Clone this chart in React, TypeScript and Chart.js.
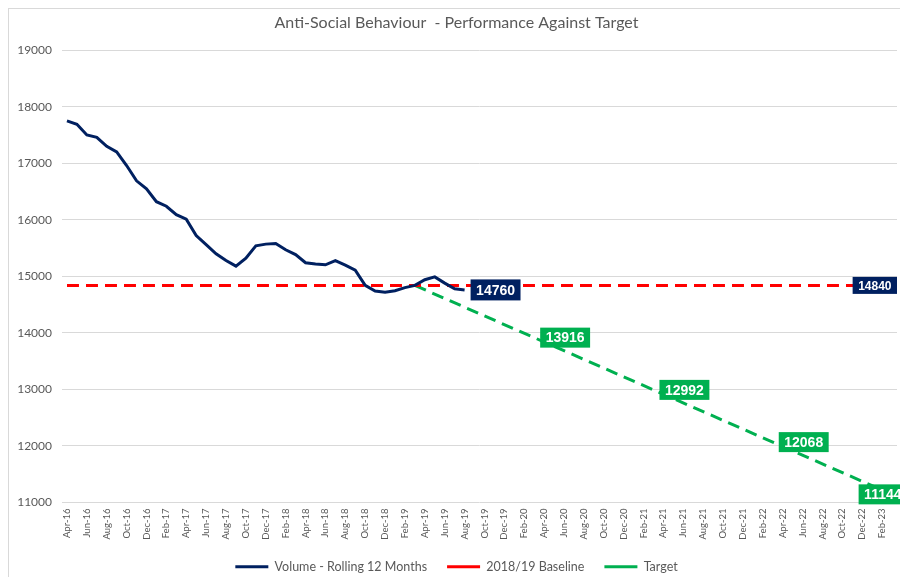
import React, { useEffect, useRef } from 'react';
import { Chart, registerables } from 'chart.js';

Chart.register(...registerables);

const chartTitle = 'Anti-Social Behaviour  - Performance Against Target';

const months = [
  'Apr-16', 'May-16', 'Jun-16', 'Jul-16', 'Aug-16', 'Sep-16', 'Oct-16', 'Nov-16', 'Dec-16',
  'Jan-17', 'Feb-17', 'Mar-17', 'Apr-17', 'May-17', 'Jun-17', 'Jul-17', 'Aug-17', 'Sep-17', 'Oct-17', 'Nov-17', 'Dec-17',
  'Jan-18', 'Feb-18', 'Mar-18', 'Apr-18', 'May-18', 'Jun-18', 'Jul-18', 'Aug-18', 'Sep-18', 'Oct-18', 'Nov-18', 'Dec-18',
  'Jan-19', 'Feb-19', 'Mar-19', 'Apr-19', 'May-19', 'Jun-19', 'Jul-19', 'Aug-19', 'Sep-19', 'Oct-19', 'Nov-19', 'Dec-19',
  'Jan-20', 'Feb-20', 'Mar-20', 'Apr-20', 'May-20', 'Jun-20', 'Jul-20', 'Aug-20', 'Sep-20', 'Oct-20', 'Nov-20', 'Dec-20',
  'Jan-21', 'Feb-21', 'Mar-21', 'Apr-21', 'May-21', 'Jun-21', 'Jul-21', 'Aug-21', 'Sep-21', 'Oct-21', 'Nov-21', 'Dec-21',
  'Jan-22', 'Feb-22', 'Mar-22', 'Apr-22', 'May-22', 'Jun-22', 'Jul-22', 'Aug-22', 'Sep-22', 'Oct-22', 'Nov-22', 'Dec-22',
  'Jan-23', 'Feb-23', 'Mar-23',
];

// Volume - Rolling 12 Months (Apr-16 .. Aug-19)
const volumeValues = [
  17750, 17690, 17500, 17460, 17300, 17200, 16960, 16690, 16550,
  16320, 16240, 16090, 16010, 15720, 15560, 15400, 15280, 15180, 15320, 15540, 15570,
  15580, 15470, 15385, 15240, 15220, 15205, 15280, 15200, 15110, 14840, 14740, 14720,
  14745, 14800, 14840, 14940, 14990, 14880, 14780, 14760,
];

// 2018/19 Baseline
const baselineMonths = ['Apr-16', 'Mar-23'];
const baselineValues = [14840, 14840];

// Target
const targetMonths = ['Mar-19', 'Mar-20', 'Mar-21', 'Mar-22', 'Mar-23'];
const targetValues = [14840, 13916, 12992, 12068, 11144];

const yMin = 11000;
const yMax = 19000;
const yStep = 1000;

const NAVY = '#002060';
const RED = '#FF0000';
const GREEN = '#00B050';
const TEXT = '#595959';
const GRID = '#D9D9D9';

const boxLabelPlugin = {
  id: 'boxLabels',
  afterDatasetsDraw(chart: any, _args: any, opts: any) {
    const ctx = chart.ctx;
    (opts.items || []).forEach((item: any) => {
      const meta = chart.getDatasetMeta(item.dataset);
      const ds = chart.data.datasets[item.dataset];
      item.indices.forEach((i: number) => {
        const el = meta.data[i];
        if (!el) return;
        const raw = ds.data[i];
        const value = typeof raw === 'object' && raw !== null ? raw.y : raw;
        const text = String(value);
        ctx.save();
        ctx.font = `bold ${item.size}px "Liberation Sans", Arial, sans-serif`;
        const w = ctx.measureText(text).width + 11;
        const h = item.height;
        const limit = item.clampToArea ? chart.chartArea.right : chart.width;
        let x = el.x + 6;
        if (x + w > limit) x = limit - w;
        const y = el.y - h / 2;
        ctx.fillStyle = item.bg;
        ctx.fillRect(x, y, w, h);
        ctx.fillStyle = '#FFFFFF';
        ctx.textAlign = 'center';
        ctx.textBaseline = 'middle';
        ctx.fillText(text, x + w / 2, el.y + 1);
        ctx.restore();
      });
    });
  },
};

export default function App() {
  const canvasRef = useRef<HTMLCanvasElement | null>(null);

  useEffect(() => {
    document.documentElement.style.overflow = 'hidden';
    document.body.style.overflow = 'hidden';
    const canvas = canvasRef.current;
    if (!canvas) return;
    const chart = new Chart(canvas, {
      type: 'line',
      data: {
        labels: months,
        datasets: [
          {
            label: 'Volume - Rolling 12 Months',
            data: volumeValues,
            borderColor: NAVY,
            backgroundColor: NAVY,
            borderWidth: 3,
            pointRadius: 0,
            pointStyle: 'line',
            tension: 0,
            fill: false,
          },
          {
            label: '2018/19 Baseline',
            data: baselineMonths.map((m, i) => ({ x: m, y: baselineValues[i] })),
            borderColor: RED,
            backgroundColor: RED,
            borderWidth: 3,
            borderDash: [12, 7],
            pointRadius: 0,
            pointStyle: 'line',
            fill: false,
          },
          {
            label: 'Target',
            data: targetMonths.map((m, i) => ({ x: m, y: targetValues[i] })),
            borderColor: GREEN,
            backgroundColor: GREEN,
            borderWidth: 3,
            borderDash: [12, 7],
            pointRadius: 0,
            pointStyle: 'line',
            fill: false,
          },
        ],
      },
      options: {
        animation: false,
        responsive: false,
        maintainAspectRatio: false,
        layout: { padding: { left: 0, right: 10, top: 0, bottom: 0 } },
        scales: {
          x: {
            type: 'category',
            offset: true,
            grid: { display: false, drawTicks: false },
            border: { display: false },
            ticks: {
              autoSkip: false,
              minRotation: 90,
              maxRotation: 90,
              padding: 6,
              color: TEXT,
              font: { family: 'Lato, "Open Sans", sans-serif', size: 9.5 },
              callback: (_v: any, idx: number) => (idx % 2 === 0 ? months[idx] : ''),
            },
            afterFit: (scale: any) => {
              scale.height = 38;
              scale.paddingLeft = 0;
              scale.paddingRight = 0;
            },
          },
          y: {
            min: yMin,
            max: yMax,
            grid: { color: GRID, lineWidth: 1, drawTicks: false },
            border: { display: false },
            ticks: {
              stepSize: yStep,
              padding: 10,
              color: TEXT,
              font: { family: 'Lato, "Open Sans", sans-serif', size: 12 },
              callback: (v: any) => String(v),
            },
            afterFit: (scale: any) => {
              scale.width = 46;
            },
          },
        },
        plugins: {
          title: {
            display: true,
            text: chartTitle,
            color: TEXT,
            font: { family: 'Lato, "Open Sans", sans-serif', size: 16, weight: 'normal' },
            padding: { top: 4, bottom: 18 },
          },
          legend: {
            display: true,
            position: 'bottom',
            labels: {
              usePointStyle: true,
              pointStyleWidth: 33,
              padding: 20,
              color: TEXT,
              font: { family: 'Lato, "Open Sans", sans-serif', size: 12.5 },
            },
          },
          tooltip: { enabled: false },
          boxLabels: {
            items: [
              { dataset: 0, indices: [volumeValues.length - 1], bg: NAVY, size: 14, height: 21, clampToArea: false },
              { dataset: 1, indices: [baselineValues.length - 1], bg: NAVY, size: 12, height: 17, clampToArea: true },
              { dataset: 2, indices: [1, 2, 3, 4], bg: GREEN, size: 14, height: 20, clampToArea: false },
            ],
          },
        },
      } as any,
      plugins: [boxLabelPlugin],
    });
    return () => chart.destroy();
  }, []);

  return (
    <div style={{ width: 898, height: 574, border: '1px solid #D9D9D9', background: '#FFFFFF' }}>
      <canvas ref={canvasRef} width={891} height={574} style={{ display: 'block', marginLeft: 7 }} />
    </div>
  );
}
